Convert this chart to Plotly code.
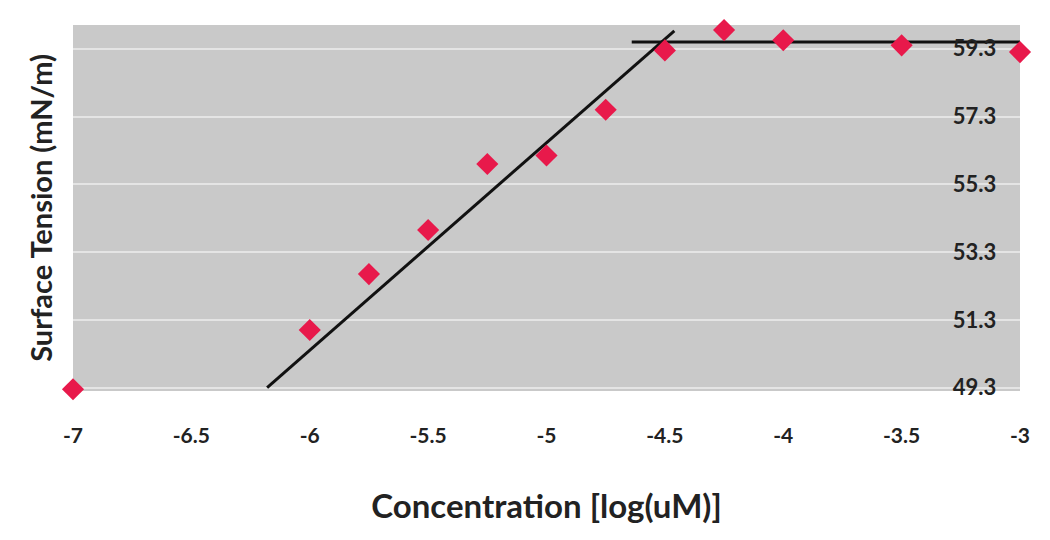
import plotly.graph_objects as go

# Data
conc_log = [-7, -6, -5.75, -5.5, -5.25, -5, -4.75, -4.5, -4.25, -4, -3.5, -3]
surface_tension = [49.25, 51.0, 52.65, 53.95, 55.9, 56.15, 57.5, 59.25, 59.85, 59.55, 59.4, 59.2]

fit_x = [-6.18, -4.46]
fit_y = [49.3, 59.83]
plateau_x = [-4.64, -2.89]
plateau_y = [59.5, 59.5]

x_ticks = [-7, -6.5, -6, -5.5, -5, -4.5, -4, -3.5, -3]
y_ticks = [49.3, 51.3, 53.3, 55.3, 57.3, 59.3]

font_family = "Lato, 'Open Sans', sans-serif"

fig = go.Figure()
fig.add_trace(go.Scatter(x=fit_x, y=fit_y, mode="lines",
                         line=dict(color="#111111", width=3),
                         showlegend=False, cliponaxis=False))
fig.add_trace(go.Scatter(x=plateau_x, y=plateau_y, mode="lines",
                         line=dict(color="#111111", width=3),
                         showlegend=False, cliponaxis=False))
fig.add_trace(go.Scatter(x=conc_log, y=surface_tension, mode="markers",
                         marker=dict(symbol="diamond", size=17, color="#e8194b",
                                     line=dict(width=0)),
                         showlegend=False, cliponaxis=False))

fig.update_layout(
    width=1050, height=540,
    margin=dict(l=65, r=38, t=17, b=157),
    paper_bgcolor="white",
    plot_bgcolor="#c9c9c9",
    font=dict(family=font_family, color="#222222"),
    xaxis=dict(
        range=[-7, -3],
        tickvals=x_ticks,
        ticktext=[str(v) for v in x_ticks],
        showgrid=False, zeroline=False, showline=False,
        ticks="outside", ticklen=26, tickcolor="rgba(0,0,0,0)",
        tickfont=dict(size=21, family=font_family, weight="bold"),
        title=dict(text="Concentration [log(uM)]",
                   font=dict(size=33, family=font_family, weight="bold"),
                   standoff=48),
        automargin=False,
    ),
    yaxis=dict(
        range=[49.2, 60.0],
        side="right",
        anchor="free",
        position=0.928,
        tickvals=y_ticks,
        ticktext=[f"{v:.1f}" for v in y_ticks],
        ticks="",
        showgrid=True, gridcolor="#e4e4e4", gridwidth=2,
        zeroline=False, showline=False,
        tickfont=dict(size=22, family=font_family, weight="bold"),
        automargin=False,
    ),
    annotations=[dict(
        text="Surface Tension (mN/m)",
        xref="paper", yref="paper", x=-0.035, y=0.5,
        xanchor="center", yanchor="middle", textangle=-90,
        showarrow=False,
        font=dict(size=29, family=font_family, weight="bold", color="#222222"),
    )],
)

fig.write_html("out.html")
